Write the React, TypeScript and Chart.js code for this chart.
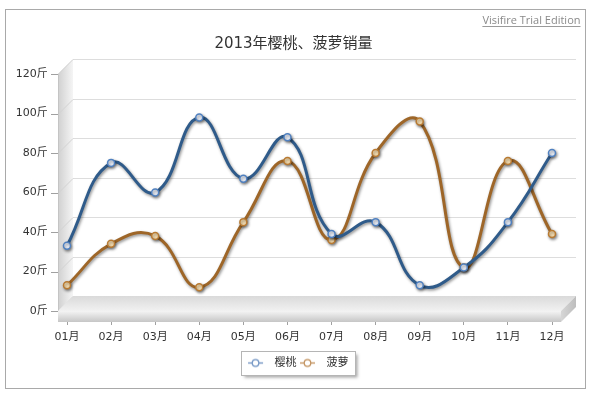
import React, { useEffect, useRef } from 'react';
import { Chart, registerables } from 'chart.js';

Chart.register(...registerables);

// ---- data ----
const months = ['01月', '02月', '03月', '04月', '05月', '06月', '07月', '08月', '09月', '10月', '11月', '12月'];
const cherry = [33, 75, 60, 98, 67, 88, 39, 45, 13, 22, 45, 80];
const pineapple = [13, 34, 38, 12, 45, 76, 36, 80, 96, 22, 76, 39];
const yTicks = [0, 20, 40, 60, 80, 100, 120];
const unit = '斤';
const seriesNames = ['樱桃', '菠萝'];
const titleText = '2013年樱桃、菠萝销量';
const watermark = 'Visifire Trial Edition';

const FONT = '"DejaVu Sans", "Noto Sans CJK SC", sans-serif';
const PADX = 9; // front plane extends beyond first/last category
const D = 15; // 3D depth offset
const T = 11; // floor thickness

const frame3d = {
  id: 'frame3d',
  afterLayout(chart: any) {
    const ca = chart.chartArea;
    if (chart.titleBlock) {
      chart.titleBlock.left = ca.left - 32;
      chart.titleBlock.right = ca.right;
    }
    if (chart.legend) {
      chart.legend.left = ca.left - 23.5;
      chart.legend.right = ca.right;
    }
  },
  beforeDraw(chart: any) {
    const { ctx, chartArea: ca } = chart;
    const ys = chart.scales.y;
    const fx0 = ca.left - PADX;
    const fx1 = ca.right + PADX;
    const fy0 = ca.top;
    const fy1 = ca.bottom;
    ctx.save();
    ctx.fillStyle = '#ffffff';
    ctx.fillRect(0, 0, chart.width, chart.height);
    // outer border
    ctx.strokeStyle = '#a9a9a9';
    ctx.lineWidth = 1;
    ctx.strokeRect(5.5, 9.5, 580, 379);
    // watermark
    ctx.font = '11px "Open Sans", "DejaVu Sans", sans-serif';
    ctx.fillStyle = '#8a8a8a';
    ctx.textAlign = 'right';
    ctx.textBaseline = 'middle';
    ctx.fillText(watermark, 580.5, 20.5);
    const ww = ctx.measureText(watermark).width;
    ctx.strokeStyle = '#9a9a9a';
    ctx.beginPath();
    ctx.moveTo(580.5 - ww, 26.5);
    ctx.lineTo(580.5, 26.5);
    ctx.stroke();
    // side wall
    const g = ctx.createLinearGradient(fx0, 0, fx0 + D, 0);
    g.addColorStop(0, '#d0d0d0');
    g.addColorStop(1, '#f5f5f5');
    ctx.beginPath();
    ctx.moveTo(fx0, fy0);
    ctx.lineTo(fx0 + D, fy0 - D);
    ctx.lineTo(fx0 + D, fy1 - D);
    ctx.lineTo(fx0, fy1);
    ctx.closePath();
    ctx.fillStyle = g;
    ctx.fill();
    // gridlines
    ctx.lineWidth = 1;
    yTicks.forEach((v) => {
      const py = Math.round(ys.getPixelForValue(v)) + 0.5;
      ctx.strokeStyle = '#dddddd';
      ctx.beginPath();
      ctx.moveTo(fx0 + D, py - D);
      ctx.lineTo(fx1 + D, py - D);
      ctx.stroke();
      ctx.strokeStyle = '#d3d3d3';
      ctx.beginPath();
      ctx.moveTo(fx0, py);
      ctx.lineTo(fx0 + D, py - D);
      ctx.stroke();
      ctx.strokeStyle = '#a0a0a0';
      ctx.beginPath();
      ctx.moveTo(fx0 - 7, py);
      ctx.lineTo(fx0, py);
      ctx.stroke();
    });
    // axis line
    ctx.strokeStyle = '#c4c4c4';
    ctx.beginPath();
    ctx.moveTo(fx0 + 0.5, fy0);
    ctx.lineTo(fx0 + 0.5, fy1);
    ctx.stroke();
    // legend box
    const lg = chart.legend;
    if (lg && lg.legendHitBoxes && lg.legendHitBoxes.length) {
      const hb = lg.legendHitBoxes;
      const first = hb[0];
      const last = hb[hb.length - 1];
      const bx = Math.round(first.left - 6) + 0.5;
      const bw = Math.round(last.left + last.width + 7 - bx);
      const by = Math.round(first.top - 6.5) + 0.5;
      const bh = Math.round(first.height + 13);
      ctx.save();
      ctx.shadowColor = 'rgba(0,0,0,0.35)';
      ctx.shadowBlur = 3;
      ctx.shadowOffsetX = 2;
      ctx.shadowOffsetY = 2;
      ctx.fillStyle = '#ffffff';
      ctx.fillRect(bx, by, bw, bh);
      ctx.restore();
      ctx.strokeStyle = '#b5b5b5';
      ctx.strokeRect(bx, by, bw, bh);
    }
    ctx.restore();
  },
  beforeDatasetDraw(chart: any) {
    const ctx = chart.ctx;
    ctx.save();
    ctx.shadowColor = 'rgba(0,0,0,0.45)';
    ctx.shadowBlur = 3;
    ctx.shadowOffsetX = 1;
    ctx.shadowOffsetY = 1.5;
  },
  afterDatasetDraw(chart: any) {
    chart.ctx.restore();
  },
  afterDraw(chart: any) {
    const { ctx, chartArea: ca } = chart;
    const fx0 = ca.left - PADX;
    const fx1 = ca.right + PADX;
    const fy1 = ca.bottom;
    ctx.save();
    // floor top face
    const gt = ctx.createLinearGradient(0, fy1 - D, 0, fy1);
    gt.addColorStop(0, '#dadada');
    gt.addColorStop(1, '#f1f1f1');
    ctx.beginPath();
    ctx.moveTo(fx0, fy1);
    ctx.lineTo(fx0 + D, fy1 - D);
    ctx.lineTo(fx1 + D, fy1 - D);
    ctx.lineTo(fx1, fy1);
    ctx.closePath();
    ctx.fillStyle = gt;
    ctx.fill();
    // floor front face
    const gf = ctx.createLinearGradient(0, fy1, 0, fy1 + T);
    gf.addColorStop(0, '#f4f4f4');
    gf.addColorStop(1, '#c6c6c6');
    ctx.fillStyle = gf;
    ctx.fillRect(fx0, fy1, fx1 - fx0, T);
    // floor right face
    const gr = ctx.createLinearGradient(fx1, 0, fx1 + D, 0);
    gr.addColorStop(0, '#d6d6d6');
    gr.addColorStop(1, '#bdbdbd');
    ctx.beginPath();
    ctx.moveTo(fx1, fy1);
    ctx.lineTo(fx1 + D, fy1 - D);
    ctx.lineTo(fx1 + D, fy1 - D + T);
    ctx.lineTo(fx1, fy1 + T);
    ctx.closePath();
    ctx.fillStyle = gr;
    ctx.fill();
    ctx.restore();
  },
};

function makeMarker(color: string): HTMLCanvasElement {
  const c = document.createElement('canvas');
  c.width = 22;
  c.height = 11;
  const g = c.getContext('2d')!;
  g.strokeStyle = color;
  g.lineWidth = 1.3;
  g.beginPath();
  g.moveTo(1, 5.5);
  g.lineTo(16, 5.5);
  g.stroke();
  g.beginPath();
  g.arc(8.5, 5.5, 3.3, 0, Math.PI * 2);
  g.fillStyle = '#ffffff';
  g.fill();
  g.lineWidth = 1.2;
  g.stroke();
  return c;
}

export default function App() {
  const ref = useRef<HTMLCanvasElement>(null);
  useEffect(() => {
    const canvas = ref.current!;
    const markers = [makeMarker('#6a8fc0'), makeMarker('#bf8d58')];
    const chart = new Chart(canvas, {
      type: 'line',
      data: {
        labels: months,
        datasets: [
          {
            label: seriesNames[0],
            data: cherry,
            borderColor: '#2f5b8a',
            backgroundColor: '#2f5b8a',
            borderWidth: 3,
            tension: 0.45,
            pointRadius: 3.5,
            pointBorderWidth: 1.5,
            pointBackgroundColor: '#eef4ff',
            pointBorderColor: '#4f80c0',
            clip: false as any,
          },
          {
            label: seriesNames[1],
            data: pineapple,
            borderColor: '#9e6628',
            backgroundColor: '#9e6628',
            borderWidth: 3,
            tension: 0.45,
            pointRadius: 3.5,
            pointBorderWidth: 1.5,
            pointBackgroundColor: '#fde3b4',
            pointBorderColor: '#b87a32',
            clip: false as any,
          },
        ],
      },
      options: {
        responsive: false,
        animation: false,
        devicePixelRatio: 1,
        events: [],
        layout: { padding: { left: 10, right: 41, top: 0, bottom: 17.5 } },
        scales: {
          x: {
            type: 'category',
            offset: false,
            grid: { display: true, drawOnChartArea: false, drawTicks: true, tickLength: 14, color: '#a0a0a0' },
            border: { display: false },
            ticks: { color: '#333333', padding: 5.4, font: { family: FONT, size: 11 }, maxRotation: 0, autoSkip: false },
            afterFit: (s: any) => {
              s.height = 44;
            },
          },
          y: {
            min: 0,
            max: 120,
            grid: { display: false, drawTicks: false },
            border: { display: false },
            ticks: {
              color: '#333333',
              padding: 19.3,
              font: { family: FONT, size: 11 },
              callback: (v: any) => v + unit,
            },
            afterBuildTicks: (s: any) => {
              s.ticks = yTicks.map((v) => ({ value: v }));
            },
            afterFit: (s: any) => {
              s.width = 57;
            },
          },
        },
        plugins: {
          title: {
            display: true,
            text: titleText,
            color: '#333333',
            font: { family: FONT, size: 15, weight: 'normal' as any },
            padding: { top: 34.7, bottom: 21.3 },
          },
          legend: {
            display: true,
            position: 'bottom',
            labels: {
              usePointStyle: true,
              pointStyleWidth: 22,
              padding: 2.5,
              color: '#333333',
              font: { family: FONT, size: 11 },
              generateLabels: (ch: any) => {
                const items = (Chart.defaults.plugins.legend.labels as any).generateLabels(ch);
                return items.map((it: any, i: number) => ({ ...it, pointStyle: markers[i] }));
              },
            },
          },
          tooltip: { enabled: false },
        },
      },
      plugins: [frame3d],
    } as any);
    return () => chart.destroy();
  }, []);
  return (
    <div style={{ position: 'absolute', left: 0, top: 0, width: 593, height: 396 }}>
      <canvas ref={ref} width={593} height={396} style={{ display: 'block' }} />
    </div>
  );
}
